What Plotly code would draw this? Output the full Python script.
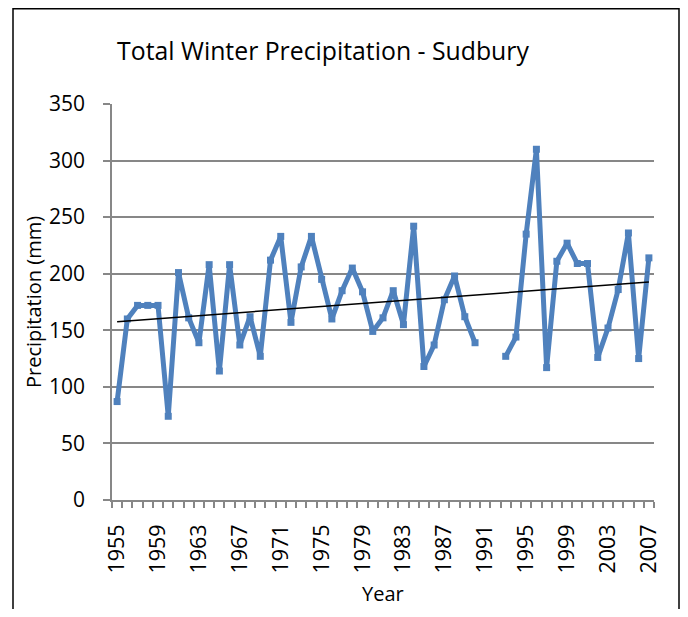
import numpy as np
import plotly.graph_objects as go

years = list(range(1955, 2008))
precip = [87, 160, 172, 172, 172, 74, 201, 161, 139, 208, 114, 208, 137, 162, 127, 212, 233, 157, 206,
          233, 195, 160, 185, 205, 184, 149, 161, 185, 155, 242, 118, 137, 177, 198, 162, 139,
          None, None,
          127, 144, 235, 310, 117, 211, 227, 209, 209, 126, 152, 186, 236, 125, 214]
tick_years = list(range(1955, 2008, 4))

xs = np.array([y for y, v in zip(years, precip) if v is not None], dtype=float)
vs = np.array([v for v in precip if v is not None], dtype=float)
slope, intercept = np.polyfit(xs, vs, 1)
trend_x = [years[0], years[-1]]
trend_y = [intercept + slope * x for x in trend_x]

FONT = "Open Sans"
OFF = 8  # page body margin
W, H = 688 - 2 * OFF, 617 - 2 * OFF
L, T = 112 - OFF, 104 - OFF
R = W - (654 - OFF)
B = H - (500 - OFF)
pw, ph = W - L - R, H - T - B

def px(x):  # window pixel -> paper
    return (x - OFF - L) / pw

def py(y):
    return (H - B - (y - OFF)) / ph

fig = go.Figure()
fig.add_trace(go.Scatter(x=years, y=precip, mode="lines+markers", connectgaps=False,
                         line=dict(color="#4F81BD", width=5),
                         marker=dict(symbol="square", size=7, color="#4F81BD"),
                         showlegend=False, hoverinfo="x+y"))
fig.add_trace(go.Scatter(x=trend_x, y=trend_y, mode="lines",
                         line=dict(color="black", width=1.5), showlegend=False))

fig.update_layout(
    width=W, height=H,
    margin=dict(l=L, r=R, t=T, b=B),
    paper_bgcolor="white", plot_bgcolor="white",
    font=dict(family=FONT, size=20, color="black"),
    title=dict(text="Total Winter Precipitation - Sudbury", x=(323 - OFF) / W, xref="container",
               xanchor="center", y=1 - (51 - OFF) / H, yref="container", yanchor="middle",
               font=dict(family=FONT, size=24.8, color="black")),
    xaxis=dict(range=[1954.5, 2007.5], tickmode="array", tickvals=tick_years,
               ticktext=[str(y) for y in tick_years], tickangle=-90, ticks="",
               ticklabelstandoff=14, automargin=False,
               showgrid=False, zeroline=False, showline=True, linecolor="#878787", linewidth=1.5,
               minor=dict(tick0=1954.5, dtick=1, ticks="outside", ticklen=6, tickwidth=1.5,
                          tickcolor="#878787", showgrid=False),
               tickfont=dict(family=FONT, size=21.5), fixedrange=True),
    yaxis=dict(range=[0, 350], dtick=50, tick0=0, ticks="outside", ticklen=7, tickwidth=1.5,
               tickcolor="#878787", showgrid=True, gridcolor="#878787", gridwidth=1.5,
               zeroline=False, showline=True, linecolor="#878787", linewidth=1.5,
               ticklabelstandoff=14, automargin=False,
               title=dict(text="Precipitation (mm)", standoff=2, font=dict(family=FONT, size=20)),
               tickfont=dict(family=FONT, size=21), fixedrange=True),
    annotations=[dict(text="Year", xref="paper", yref="paper", x=0.5, y=py(OFF + H),
                      xanchor="center", yanchor="bottom", showarrow=False,
                      font=dict(family=FONT, size=20, color="black"))],
    shapes=[dict(type="rect", xref="paper", yref="paper",
                 x0=px(13), x1=px(OFF + W - 1), y0=py(OFF + H + 5), y1=py(OFF + 0.75),
                 line=dict(color="black", width=1.5), fillcolor="rgba(0,0,0,0)", layer="below")],
)

fig.write_html("out.html")
